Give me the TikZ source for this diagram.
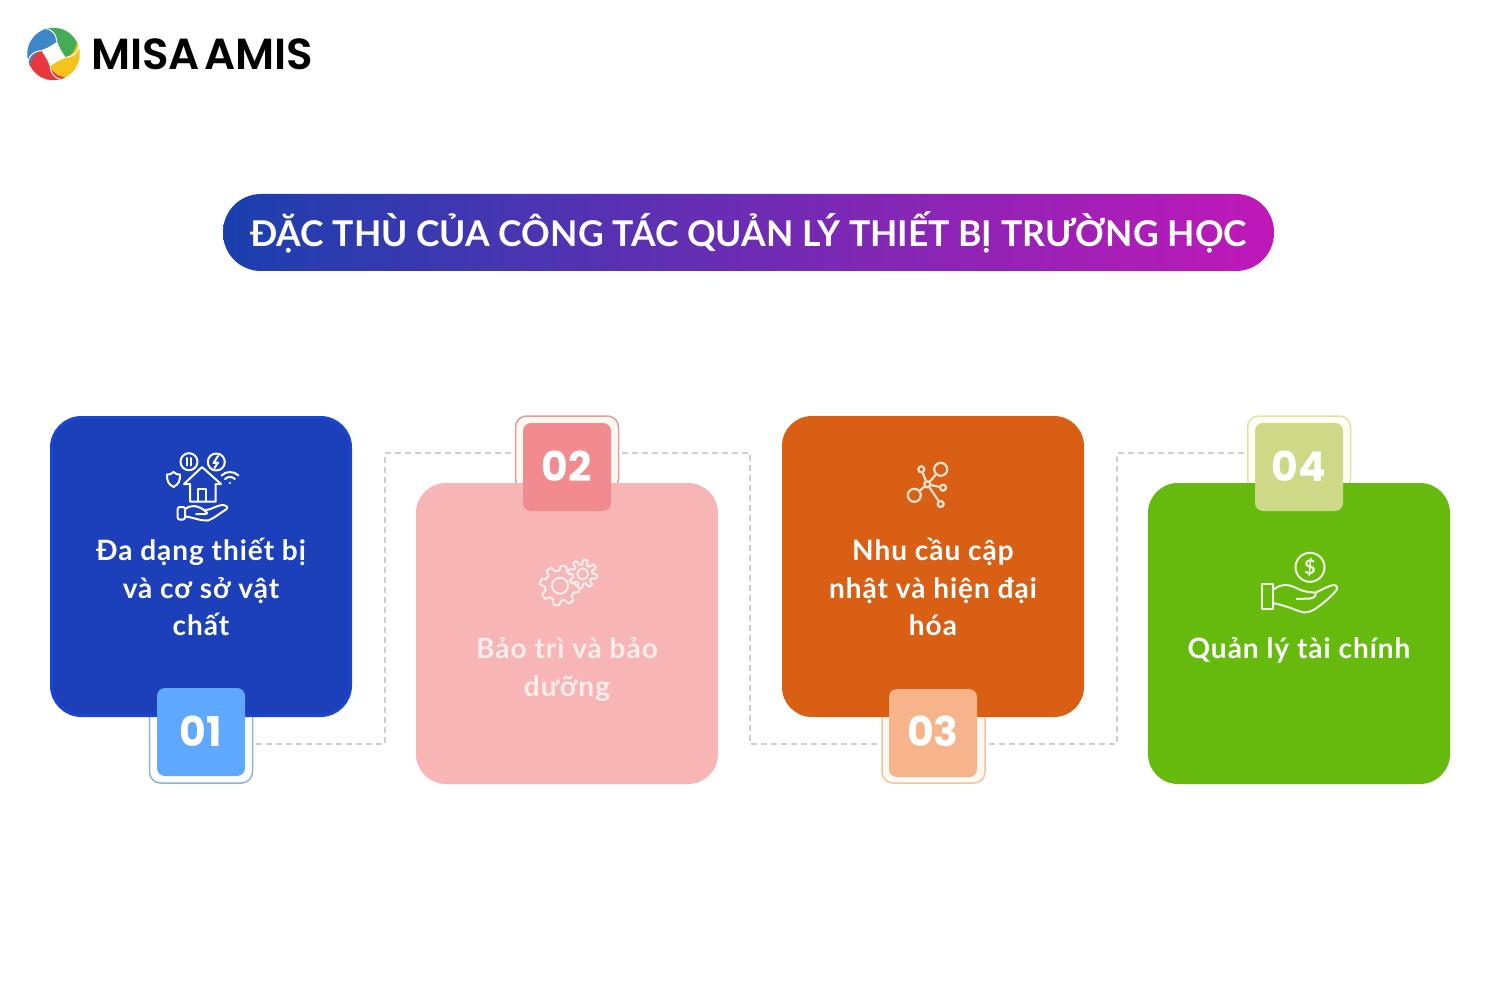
\documentclass[tikz,border=0pt]{standalone}
\usepackage{fontspec}
\setmainfont{Lato}
\newfontfamily\cardfont{Lato}[BoldFont = * Bold, LetterSpace = 3.5]
\newfontfamily\titlefont{Lato}[BoldFont = * Bold]
\newfontfamily\tagfont{Poppins}[BoldFont = * Bold]
\newfontfamily\logofont{Poppins}[BoldFont = * SemiBold]
\definecolor{cardA}{HTML}{1C3FBA}
\definecolor{edgeA}{HTML}{1A45CE}
\definecolor{cardB}{HTML}{F7B5B5}
\definecolor{cardC}{HTML}{D95F14}
\definecolor{cardD}{HTML}{66BA0E}
\definecolor{tagA}{HTML}{5EA9FF}
\definecolor{tagB}{HTML}{F28B8F}
\definecolor{tagC}{HTML}{F7B48A}
\definecolor{tagD}{HTML}{CDD986}
\definecolor{frameA}{HTML}{8AB4DA}
\definecolor{frameB}{HTML}{DDA0A0}
\definecolor{frameC}{HTML}{F3C3A0}
\definecolor{frameD}{HTML}{DFE3A8}
\definecolor{linkgray}{HTML}{CFCFCF}
\definecolor{inkB}{HTML}{FDEEEE}
\definecolor{inkC}{HTML}{FBE3CF}
\definecolor{inkD}{HTML}{F2FAE6}
\definecolor{titleL}{HTML}{1A40AE}
\definecolor{titleR}{HTML}{C018B8}
\definecolor{logoG}{HTML}{43AD55}
\definecolor{logoY}{HTML}{F6C21C}
\definecolor{logoR}{HTML}{E8383D}
\definecolor{logoB}{HTML}{3D86C8}
\newcommand{\cog}[3]{\draw[iconline, draw = inkB, fill = cardB, shift = {#1}] plot[domain = 0:360, samples = 97] (\x:{#2 + 2.4 * max(-1, min(1, 2 * sin(8 * \x)))}) -- cycle (0,0) circle (#3);}
\begin{document}
\begin{tikzpicture}[x = 1pt, y = -1pt,
    card/.style = {shape = rectangle, minimum width = 302pt, minimum height = 301pt, inner sep = 0pt, rounded corners = 30pt},
    frame/.style = {shape = rectangle, draw, line width = 1.5pt, minimum width = 103pt, inner sep = 0pt, rounded corners = 11pt},
    tag/.style = {shape = rectangle, minimum width = 88pt, minimum height = 88pt, inner sep = 0pt, rounded corners = 8pt, text = white, font = \tagfont\fontsize{41}{41}\selectfont\bfseries},
    label/.style = {align = center, font = \cardfont\fontsize{28}{37.8}\selectfont\bfseries, text = white},
    link/.style = {draw = linkgray, line width = 2.4pt, dash pattern = on 6pt off 4pt, shorten <= 3pt, shorten >= 3pt},
    iconline/.style = {draw = white, line width = 2pt, line join = round, line cap = round},
    dot/.style = {shape = circle, draw = inkC, line width = 2.2pt, inner sep = 0pt}]
    \useasboundingbox (0,0) rectangle (1500,1000);
    \fill[white] (0,0) rectangle (1500,1000);

    \begin{scope}[shift = {(53.5,54)}]
        \foreach \ang/\col in {0/logoG, 90/logoY, 180/logoR, 270/logoB}
            \filldraw[fill = \col, draw = \col, line width = 0.4pt, rotate = -\ang] (-115:26) arc[start angle = -115, end angle = -15, radius = 26]
                .. controls (0:24) and (8:19) .. (15:13)
                .. controls (-15:9) and (-50:9) .. (-75:14)
                .. controls (-85:18) and (-100:23) .. (-115:26);
        \foreach \ang in {0, 90, 180, 270}
            \draw[draw = white, line width = 1pt, rotate = -\ang] (-17:26.5)
                .. controls (0:24) and (8:19) .. (15:13);
    \end{scope}
    \node[anchor = west, inner sep = 0pt, font = \logofont\fontsize{43.5}{43.5}\selectfont\bfseries] (L) at (91,54) {MISA\hspace{-6pt} AMIS};

    \node[shape = rectangle, rounded corners = 38pt, minimum width = 1051pt, minimum height = 77pt, left color = titleL, right color = titleR, text = white, font = \titlefont\fontsize{35.5}{36}\selectfont\bfseries] (T) at (748.5,232.5) {\raisebox{1pt}{ĐẶC THÙ CỦA CÔNG TÁC QUẢN LÝ THIẾT BỊ TRƯỜNG HỌC}};

    \node[frame, draw = frameA, fill = white, minimum height = 78pt] (F1) at (201,744) {};
    \node[frame, draw = frameB, fill = orange!5, minimum height = 74pt] (F2) at (567,453) {};
    \node[frame, draw = frameC, fill = orange!5, minimum height = 78pt] (F3) at (933.5,744) {};
    \node[frame, draw = frameD, fill = yellow!5, minimum height = 74pt] (F4) at (1299,453) {};

    \coordinate (M1) at (385,600);
    \coordinate (M2) at (750,600);
    \coordinate (M3) at (1117,600);
    \draw[link] (F1.east) -| (M1) |- (F2.west);
    \draw[link] (F2.east) -| (M2) |- (F3.west);
    \draw[link] (F3.east) -| (M3) |- (F4.west);

    \node[card, draw = edgeA, line width = 3pt, fill = cardA, minimum width = 299pt, minimum height = 298pt] (C1) at (201,566.5) {};
    \node[card, fill = cardB] (C2) at (567,633.5) {};
    \node[card, fill = cardC] (C3) at (933,566.5) {};
    \node[card, fill = cardD] (C4) at (1299,633.5) {};

    \node[tag, fill = tagA] (B1) at (201,732) {\raisebox{2pt}{01}};
    \node[tag, fill = tagB] (B2) at (567,467) {\raisebox{1pt}{02}};
    \node[tag, fill = tagC] (B3) at (933,733) {\raisebox{4pt}{03}};
    \node[tag, fill = tagD] (B4) at (1299,467) {\raisebox{1pt}{04}};

    \node[label] (X1) at (201,587) {Đa dạng thiết bị\\và cơ sở vật\\chất};
    \node[label, text = inkB] (X2) at (567,669.5) {Bảo trì và bảo\\dưỡng};
    \node[label] (X3) at (933,587) {Nhu cầu cập\\nhật và hiện đại\\hóa};
    \node[label] (X4) at (1299,650) {Quản lý tài chính};

    \draw[iconline] (189,461.7) circle (8.5) (216.3,462) circle (8.5);
    \draw[iconline] (187,458) -- (187,465.5) (191,458) -- (191,465.5);
    \draw[iconline] (218,456) -- (213.5,463) -- (218,462.5) -- (214.5,468);
    \draw[iconline] (173.5,472) .. controls (170,474.5) .. (167,474.5) .. controls (167,481) and (168,484) .. (173.5,487) .. controls (179,484) and (180,481) .. (180,474.5) .. controls (177,474.5) .. (173.5,472);
    \draw[iconline] (225,479) arc[start angle = -135, end angle = -45, radius = 7] (221.5,475.5) arc[start angle = -135, end angle = -45, radius = 12] (229.5,483) -- (230,483);
    \draw[iconline] (190,484) -- (184,484) -- (202,467) -- (221,484) -- (215.7,484) (190,484) -- (190,501.7) -- (215.7,501.7) -- (215.7,484);
    \draw[iconline] (198,501.7) -- (198,489) -- (206,489) -- (206,501.7);
    \draw[iconline, rounded corners = 2pt] (177.7,507) rectangle (185,519.5);
    \draw[iconline] (185,509) .. controls (190,505) and (197,505) .. (204,510) .. controls (210,511) and (220,503) .. (225,505.5) .. controls (228,507) .. (226,509.5) .. controls (220,513) and (215,518) .. (208,520.5) .. controls (200,521) and (192,517) .. (185,516.5);
    \draw[iconline] (196,514) -- (205,514) .. controls (208,513.5) .. (204,510);

    \cog{(560,585.7)}{17.5}{8}
    \cog{(582.7,574)}{12}{5.5}

    \node[dot, minimum size = 6pt] (H) at (927.3,484.3) {};
    \node[dot, minimum size = 6pt] (N1) at (921.3,469.3) {};
    \node[dot, minimum size = 13pt] (N2) at (940.7,469.3) {};
    \node[dot, minimum size = 6pt] (N3) at (943,487.7) {};
    \node[dot, minimum size = 6pt] (N4) at (940.7,504) {};
    \node[dot, minimum size = 13pt] (N5) at (914.3,495.3) {};
    \foreach \n in {N1, N2, N3, N4, N5}
        \draw[draw = inkC, line width = 2.2pt] (H) -- (\n);

    \node[shape = circle, draw = inkD, line width = 2pt, minimum size = 29pt, inner sep = 0pt, text = inkD, font = \fontsize{20}{20}\selectfont\bfseries] (D) at (1310,567.3) {\$};
    \draw[iconline, draw = inkD] (1261.7,584) rectangle (1272.7,609.3);
    \draw[iconline, draw = inkD] (1272.7,590) .. controls (1278,586) and (1282,585) .. (1286.7,585) .. controls (1295,586) and (1300,591) .. (1306.7,591.7) .. controls (1310,592) .. (1315,592.7) .. controls (1322,590) and (1328,586) .. (1333.3,585) .. controls (1337,585) and (1338,588) .. (1336.7,590) .. controls (1330,598) and (1320,606) .. (1313.3,610) .. controls (1310,612) and (1306,612.5) .. (1303.3,612.3) .. controls (1297,611) and (1292,608) .. (1286.7,606.7) .. controls (1282,605) and (1277,604) .. (1272.7,603);
    \draw[iconline, draw = inkD] (1296.7,599) -- (1310,598.5) .. controls (1315,598) and (1317,594) .. (1315,592.7);
\end{tikzpicture}
\end{document}
